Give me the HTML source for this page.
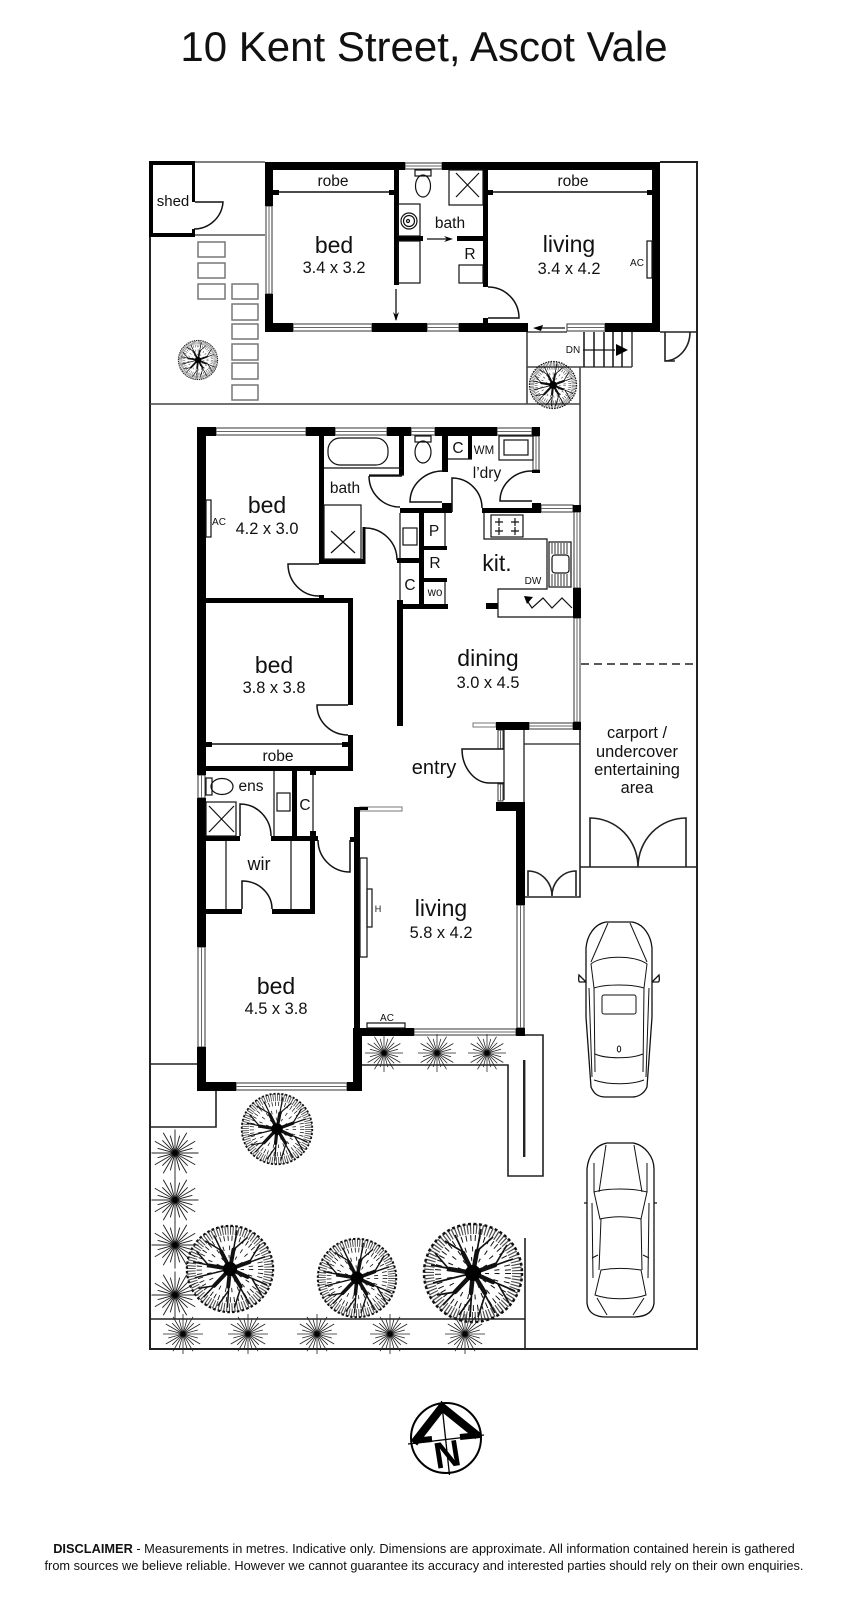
<!DOCTYPE html>
<html><head><meta charset="utf-8"><title>10 Kent Street, Ascot Vale</title>
<style>html,body{margin:0;padding:0;background:#fff}svg{display:block}
text{font-family:"Liberation Sans",sans-serif;fill:#111;text-anchor:middle}
.n{font-size:23px}.d{font-size:16.4px}.l{font-size:15.5px}.s{font-size:10px}.m{font-size:11.5px}
</style></head><body>
<svg xmlns="http://www.w3.org/2000/svg" width="848" height="1600" viewBox="0 0 848 1600">
<defs>
<g id="shrub" fill="none" stroke="#222" stroke-width="2">
<path d="M0 0L50 0M0 0L37 10M0 0L43 25M0 0L27 27M0 0L25 43M0 0L10 37M0 0L0 50M0 0L-10 37M0 0L-25 43M0 0L-27 27M0 0L-43 25M0 0L-37 10M0 0L-50 0M0 0L-37 -10M0 0L-43 -25M0 0L-27 -27M0 0L-25 -43M0 0L-10 -37M0 0L0 -50M0 0L10 -37M0 0L25 -43M0 0L27 -27M0 0L43 -25M0 0L37 -10"/>
<circle r="6" fill="#000" stroke="none"/>
</g>
<g id="tree" fill="none" stroke="#111">
<circle r="44" stroke-width="10" stroke-dasharray="1.2 1.8" opacity=".75"/>
<circle r="49" stroke-width="2.500" stroke-dasharray="3 2.5"/>
<circle r="35" stroke-width="6" stroke-dasharray="1 3.5"/>
<circle r="24" stroke-width="5" stroke-dasharray="1 6"/>
<circle r="14" stroke-width="4" stroke-dasharray="1 7"/>
<path stroke-width="1.7" d="M0 0L-42 -8M-25 -5L-38 -20M0 0L-18 -38M-10 -21L-28 -32M0 0L8 -44M4 -22L20 -36M0 0L40 -14M22 -8L34 -28M0 0L42 18M25 11L36 30M0 0L22 40M12 22L5 44M0 0L-3 44M-2 25L-14 42M0 0L-30 32M-18 19L-36 22M0 0L-40 10"/>
<path stroke-width="4.500" stroke-linecap="round" d="M0 0L-24 -4M0 0L-10 -20M0 0L4 -22M0 0L22 -8M0 0L20 9M0 0L12 20M0 0L-2 20M0 0L-18 19"/>
<circle r="8" fill="#000" stroke="none"/>
</g>
</defs>
<rect width="848" height="1600" fill="#fff"/>
<text x="424" y="61" style="font-size:42px">10 Kent Street, Ascot Vale</text>

<!-- site lines -->
<g fill="none" stroke="#222" stroke-width="1.6">
<path d="M150 162V1349H697V162H660" stroke-width="2"/>
<path d="M195 235H265M195 162H265" stroke="#555"/>
<path d="M150 404H580M527 332V404M580 367V505M527 367H632M632 332V367M527 332H567" stroke="#444"/>
<path d="M584 332V367M594 332V367M604 332V367M613 332V367M622 332V367"/>
<path d="M660 332H697M665 332V361H675"/>
<path d="M665 361A26 29 0 0 0 690 332"/>
<path d="M150 1064H197M216 1091V1127H150M150 1319H525M525 1238V1349"/>
<path d="M362 1065H508V1176H543V1035H525M525 897H580V722"/>
<path d="M524 730V802M504 730V800M524 744H580" stroke-width="1.3"/>
<path d="M580 867H697"/>
<path d="M581 664H697" stroke-dasharray="8 5"/>
<path d="M590 867V818A48 49 0 0 1 638 867A48 49 0 0 1 686 818V867"/>
<path d="M528 896V871A24 25 0 0 1 552 896A24 25 0 0 1 576 871V896"/>
</g>
<rect x="523" y="1060" width="2.400" height="97" fill="#222"/>
<g fill="none" stroke="#777" stroke-width="1.5">
<rect x="198" y="242" width="27" height="15"/><rect x="198" y="263" width="27" height="15"/><rect x="198" y="284" width="27" height="15"/>
<rect x="232" y="284" width="26" height="15"/><rect x="232" y="304" width="26" height="16"/><rect x="232" y="324" width="26" height="15"/><rect x="232" y="344" width="26" height="16"/><rect x="232" y="363" width="26" height="16"/><rect x="232" y="385" width="26" height="15"/>
</g>

<!-- windows -->
<g fill="#fff" stroke="#333" stroke-width="1">
<rect x="266" y="206" width="6" height="88"/><rect x="293" y="324" width="79" height="7"/><rect x="427" y="324" width="32" height="7"/><rect x="405" y="163" width="37" height="6"/><rect x="567" y="324" width="38" height="7"/>
<rect x="216" y="428" width="90" height="7"/><rect x="335" y="428" width="52" height="7"/><rect x="411" y="428" width="24" height="7"/><rect x="497" y="428" width="35" height="7"/>
<rect x="533" y="436" width="6" height="34"/><rect x="541" y="505" width="32" height="7"/><rect x="574" y="512" width="6" height="76"/><rect x="574" y="618" width="6" height="104"/>
<rect x="529" y="723" width="44" height="6"/><rect x="473" y="723" width="23" height="4" stroke="#777"/>
<rect x="498" y="730" width="5" height="19"/><rect x="498" y="784" width="5" height="17"/>
<rect x="198" y="775" width="7" height="23"/><rect x="198" y="947" width="7" height="100"/><rect x="236" y="1083" width="111" height="7"/>
<rect x="414" y="1029" width="102" height="6"/><rect x="517" y="905" width="7" height="123"/><rect x="360" y="807" width="42" height="4" stroke="#777"/>
</g>
<g stroke="#666" stroke-width="1">
<path d="M269 206V294M293 327.500H372M427 327.500H459M405 166H442M567 327.500H605M216 431.500H306M335 431.500H387M411 431.500H435M497 431.500H532M536 436V470M541 508.500H573M577 512V588M577 618V722M529 726H573M500.500 730V749M500.500 784V801M201.500 775V798M201.500 947V1047M236 1086.500H347M414 1032H516M520.500 905V1028"/>
</g>

<!-- walls -->
<g fill="#000">
<!-- upper building -->
<rect x="265" y="162" width="140" height="8"/><rect x="442" y="162" width="218" height="8"/>
<rect x="265" y="162" width="8" height="44"/><rect x="265" y="294" width="8" height="38"/>
<rect x="265" y="323" width="28" height="9"/><rect x="372" y="323" width="55" height="9"/><rect x="459" y="323" width="69" height="9"/><rect x="605" y="323" width="55" height="9"/>
<rect x="652" y="162" width="8" height="170"/>
<rect x="394" y="170" width="5" height="115"/><rect x="483" y="170" width="5" height="117"/><rect x="483" y="318" width="5" height="5"/>
<rect x="394" y="236" width="29" height="5"/><rect x="457" y="236" width="26" height="5"/>
<rect x="273" y="190" width="6" height="5"/><rect x="389" y="190" width="5" height="5"/><rect x="488" y="190" width="5" height="5"/><rect x="647" y="190" width="5" height="5"/>
<!-- shed -->
<rect x="149" y="161" width="46" height="4"/><rect x="149" y="161" width="4" height="75"/><rect x="149" y="233" width="46" height="4"/><rect x="192" y="161" width="3" height="41"/><rect x="192" y="229" width="3" height="7"/>
<!-- main building -->
<rect x="197" y="427" width="19" height="9"/><rect x="306" y="427" width="29" height="9"/><rect x="387" y="427" width="24" height="9"/><rect x="435" y="427" width="62" height="9"/><rect x="532" y="427" width="8" height="9"/>
<rect x="197" y="427" width="9" height="348"/><rect x="197" y="798" width="9" height="149"/><rect x="197" y="1047" width="9" height="44"/>
<rect x="197" y="1082" width="39" height="9"/><rect x="347" y="1082" width="15" height="9"/><rect x="353" y="1028" width="9" height="63"/>
<rect x="319" y="436" width="5" height="128"/><rect x="319" y="559" width="46" height="5"/><rect x="362.500" y="527" width="3" height="37"/><rect x="319" y="595" width="5" height="4"/>
<rect x="399" y="436" width="5" height="39"/><rect x="442" y="436" width="6" height="36"/><rect x="468" y="436" width="4" height="23"/>
<rect x="532" y="470" width="8" height="3"/>
<rect x="400" y="508" width="52" height="5"/><rect x="442" y="503" width="10" height="9"/><rect x="482" y="508" width="50" height="5"/><rect x="532" y="503" width="9" height="10"/>
<rect x="573" y="505" width="8" height="7"/><rect x="573" y="588" width="8" height="30"/><rect x="573" y="722" width="8" height="8"/>
<rect x="419" y="513" width="5" height="94"/><rect x="397" y="558" width="22" height="5"/><rect x="424" y="546" width="23" height="4"/><rect x="424" y="578" width="23" height="4"/><rect x="397" y="604" width="51" height="5"/>
<rect x="397" y="600" width="6" height="126"/><rect x="486" y="603" width="12" height="6"/>
<rect x="206" y="598" width="147" height="5"/><rect x="348" y="598" width="5" height="107"/><rect x="348" y="735" width="5" height="36"/><rect x="206" y="766" width="147" height="5"/>
<rect x="206" y="742" width="6" height="5"/><rect x="342" y="742" width="6" height="5"/>
<rect x="292" y="771" width="5" height="65"/><rect x="206" y="836" width="34" height="5"/><rect x="271" y="836" width="47" height="5"/><rect x="310" y="771" width="6" height="4"/><rect x="310" y="831" width="6" height="5"/>
<rect x="310" y="841" width="5" height="73"/><rect x="206" y="909" width="36" height="5"/><rect x="272" y="909" width="43" height="5"/>
<rect x="354" y="807" width="6" height="281"/><rect x="354" y="807" width="14" height="3"/><rect x="350" y="837" width="6" height="5"/>
<rect x="353" y="1028" width="61" height="8"/><rect x="516" y="1028" width="9" height="8"/>
<rect x="496" y="722" width="33" height="8"/><rect x="496" y="802" width="28" height="9"/><rect x="516" y="802" width="9" height="103"/>
</g>

<!-- thin interiors & doors -->
<g fill="none" stroke="#111" stroke-width="1.5">
<path d="M279 192H389M493 192H647M212 744H342" stroke-width="1.4"/>
<path d="M195 202H223A29 29 0 0 1 194 229"/>
<path d="M488 287A31 31 0 0 1 519 318H488"/>
<path d="M369 476H402M369 476A31 31 0 0 0 400 507"/>
<path d="M365 528A32 32 0 0 1 397 560"/>
<path d="M319 564H288A31 32 0 0 0 319 596"/>
<path d="M348 705H317A31 30 0 0 0 348 735"/>
<path d="M443 471A33 31 0 0 0 410 502H442"/>
<path d="M452 512V478A30 30 0 0 1 482 508"/>
<path d="M532 471A32 30 0 0 0 500 501H532"/>
<path d="M240 836V804A31 32 0 0 1 271 836"/>
<path d="M242 909V881A30 28 0 0 1 272 909"/>
<path d="M318 840A32 32 0 0 0 350 872V840"/>
<path d="M504 749H462A28 34 0 0 0 490 783H504"/>
<g stroke-width="1.2">
<rect x="398" y="204" width="22" height="32"/><rect x="398" y="241" width="22" height="42"/>
<circle cx="409" cy="221" r="8"/><circle cx="409" cy="221" r="5.500"/><circle cx="408" cy="221" r="1.500"/>
<rect x="415" y="170" width="16" height="6"/><ellipse cx="423" cy="186" rx="7.500" ry="11"/>
<rect x="449" y="170" width="34" height="35"/><path d="M456 173L479 197M479 173L456 197"/>
<rect x="459" y="265" width="24" height="18"/>
<rect x="647" y="241" width="5" height="37"/><rect x="206" y="500" width="5" height="37"/>
<rect x="328" y="438" width="60" height="27" rx="12"/><path d="M324 468H402M404 475H369"/>
<rect x="324" y="505" width="37" height="54"/><path d="M331 531L355 553M355 531L331 553"/>
<rect x="415" y="436" width="16" height="6"/><ellipse cx="423" cy="452" rx="8" ry="11"/>
<path d="M448 459H472"/>
<rect x="499" y="436" width="34" height="24"/><rect x="504" y="440" width="24" height="15"/>
<path d="M400 513V558M400 563V600M445 513V546M445 582V604"/><rect x="403" y="528" width="14" height="17"/>
<path d="M484 513V539H547V589H498V617H573"/>
<rect x="491" y="515" width="32" height="22"/><path d="M495 522H503M499 518V526M511 522H519M515 518V526M495 531H503M499 527V535M511 531H519M515 527V535"/>
<rect x="549" y="542" width="22" height="45"/><rect x="552" y="555" width="17" height="18" rx="3"/>
<path d="M552 543V554M555 543V554M558 543V554M561 543V554M564 543V554M567 543V554M552 574V586M555 574V586M558 574V586M561 574V586M564 574V586M567 574V586" stroke="#555"/>
<path d="M526 599L532 608L543 598L552 608L562 598L572 608"/>
<rect x="206" y="802" width="30" height="34"/><path d="M209 806L234 832M234 806L209 832"/>
<rect x="206" y="778" width="6" height="17"/><ellipse cx="222" cy="786.500" rx="11" ry="8"/>
<path d="M274 771V836M226 841V909M291 841V909M313 775V831"/>
<rect x="277" y="793" width="13" height="18"/>
<rect x="360" y="858" width="7" height="99"/><rect x="367" y="889" width="5" height="38"/>
<rect x="367" y="1023" width="38" height="5"/>
</g>
<!-- arrows -->
<path d="M396 289V320M427 239H450M565 328H536M583 350H615" stroke-width="1.3"/>
</g>
<g fill="#000">
<path d="M396 321L393 312L396 315L399 312Z"/><path d="M453 239L444 236L447 239L444 242Z"/><path d="M533 328L543 325L541 331Z"/><path d="M628 350L616 344V356Z"/><path d="M524 596L533 597L527 604Z"/>
</g>

<!-- trees -->
<use href="#tree" transform="translate(198,360) scale(.4)"/>
<use href="#tree" transform="translate(553,385) scale(.48)"/>
<use href="#tree" transform="translate(277,1129) scale(.72)"/>
<use href="#tree" transform="translate(230,1269) scale(.88)"/>
<use href="#tree" transform="translate(357,1278) scale(.8)"/>
<use href="#tree" transform="translate(473,1273) scale(1)"/>
<use href="#shrub" transform="translate(384,1053) scale(.38)"/>
<use href="#shrub" transform="translate(437,1053) scale(.38)"/>
<use href="#shrub" transform="translate(487,1053) scale(.38)"/>
<use href="#shrub" transform="translate(175,1153) scale(.47)"/>
<use href="#shrub" transform="translate(175,1200) scale(.47)"/>
<use href="#shrub" transform="translate(175,1245) scale(.47)"/>
<use href="#shrub" transform="translate(175,1295) scale(.47)"/>
<use href="#shrub" transform="translate(183,1334) scale(.4)"/>
<use href="#shrub" transform="translate(248,1334) scale(.4)"/>
<use href="#shrub" transform="translate(317,1334) scale(.4)"/>
<use href="#shrub" transform="translate(390,1334) scale(.4)"/>
<use href="#shrub" transform="translate(465,1334) scale(.4)"/>

<!-- cars -->
<g transform="translate(586,922)" fill="#fff" stroke="#111" stroke-width="1.3">
<path d="M0 60L-7 53Q-8 60 -6 60ZM66 60L73 53Q74 60 72 60Z" fill="none"/>
<path d="M20 0H46C58 2 65 14 66 26V95L61 165C58 172 52 175 46 175H20C12 175 8 172 5 165L0 95V26C1 14 8 2 20 0Z"/>
<g fill="none" stroke-width="1">
<path d="M5 42C15 33 50 33 61 42L58 66C45 62 20 62 8 66Z"/>
<rect x="16" y="73" width="34" height="19" rx="2"/>
<path d="M9 132C20 137 45 137 57 132M8 158C22 163 45 163 58 158M8 66L9 150M58 66L57 150M3 66L6 155M63 66L60 155M22 1L5 40M44 1L61 40"/>
<ellipse cx="33" cy="127" rx="1.700" ry="3"/>
</g>
</g>
<g transform="translate(587,1143)" fill="#fff" stroke="#111" stroke-width="1.3">
<path d="M-3 60H5M64 60H70" fill="none"/>
<path d="M20 0H46C58 2 67 14 67 26V160C66 170 58 174 46 174H20C8 174 1 170 0 160V26C1 14 8 2 20 0Z"/>
<g fill="none" stroke-width="1">
<path d="M7 49C20 45 46 45 60 49L54 76C40 73 26 73 13 76Z"/>
<path d="M14 127C26 125 41 125 54 127L59 152C45 157 22 157 8 152Z"/>
<path d="M19 2L12 49M47 2L55 49M7 20V49M60 20V49M14 76L12 127M54 76L55 127M5 60L6 135M62 60L61 135M10 155L20 172M57 155L46 172"/>
<path d="M5 115L11 112M62 115L56 112"/>
</g>
</g>

<!-- compass -->
<g fill="none" stroke="#000">
<circle cx="446" cy="1438" r="35" stroke-width="2"/>
<path d="M441.500 1401L449.500 1475M408 1444L484 1435" stroke-width="1.3"/>
<path d="M414 1443L442 1407L478 1436" stroke-width="8"/>
<path d="M413 1441L432 1439M460 1437L480 1435" stroke-width="6"/>
</g>
<text x="447" y="1467" transform="rotate(-9 447 1453)" style="font-size:37px;font-weight:bold;fill:#000">N</text>

<!-- labels -->
<text x="173" y="206" style="font-size:15px">shed</text>
<text class="l" x="333" y="186">robe</text><text class="l" x="573" y="186">robe</text>
<text class="n" x="334" y="253">bed</text><text class="d" x="334" y="273">3.4 x 3.2</text>
<text class="n" x="569" y="252">living</text><text class="d" x="569" y="274">3.4 x 4.2</text>
<text class="l" x="450" y="228">bath</text><text class="l" x="470" y="259">R</text>
<text class="s" x="637" y="266">AC</text><text class="s" x="573" y="353">DN</text>
<text class="n" x="267" y="513">bed</text><text class="d" x="267" y="534">4.2 x 3.0</text>
<text class="s" x="219" y="525">AC</text><text class="l" x="345" y="493">bath</text>
<text class="l" x="458" y="453">C</text><text class="m" x="484" y="454">WM</text>
<text class="l" x="487" y="478">l’dry</text>
<text class="l" x="434" y="536">P</text><text class="l" x="435" y="568">R</text><text class="l" x="410" y="590">C</text><text class="m" x="435" y="596">wo</text>
<text class="n" x="497" y="571">kit.</text><text class="s" x="533" y="584">DW</text>
<text class="n" x="274" y="673">bed</text><text class="d" x="274" y="693">3.8 x 3.8</text>
<text class="l" x="278" y="761">robe</text>
<text class="n" x="488" y="666">dining</text><text class="d" x="488" y="688">3.0 x 4.5</text>
<text x="434" y="774" style="font-size:20px">entry</text>
<text class="d" x="637" y="738">carport /</text><text class="d" x="637" y="757">undercover</text><text class="d" x="637" y="775">entertaining</text><text class="d" x="637" y="793">area</text>
<text class="l" x="251" y="791">ens</text><text class="l" x="305" y="810">C</text><text x="259" y="870" style="font-size:18px">wir</text>
<text class="n" x="276" y="994">bed</text><text class="d" x="276" y="1014">4.5 x 3.8</text>
<text class="n" x="441" y="916">living</text><text class="d" x="441" y="938">5.8 x 4.2</text>
<text style="font-size:9px" x="378" y="912">H</text><text class="s" x="387" y="1021">AC</text>

<text x="424" y="1553" style="font-size:12.800px"><tspan font-weight="bold">DISCLAIMER</tspan> - Measurements in metres. Indicative only. Dimensions are approximate. All information contained herein is gathered</text>
<text x="424" y="1570" style="font-size:12.800px">from sources we believe reliable. However we cannot guarantee its accuracy and interested parties should rely on their own enquiries.</text>
</svg>
</body></html>
